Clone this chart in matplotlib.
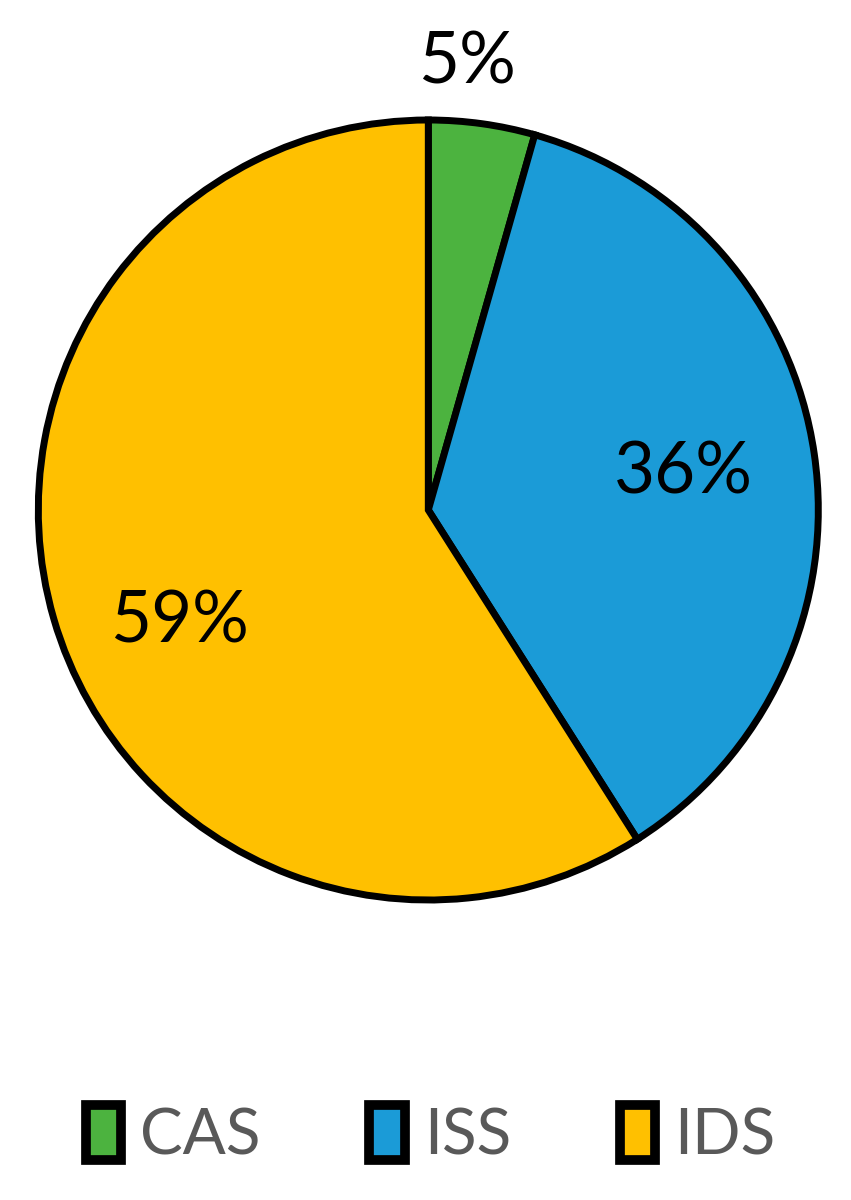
import numpy as np
import matplotlib.pyplot as plt
from matplotlib.patches import Patch

labels = ['CAS', 'ISS', 'IDS']
values = [4.4, 36.6, 59.0]
pct_labels = ['5%', '36%', '59%']
colors = ['#4cb33f', '#1b9bd7', '#ffc000']

plt.rcParams['font.family'] = ['Lato', 'DejaVu Sans']

fig = plt.figure(figsize=(8.51, 12), dpi=100)
ax = fig.add_axes([0.045, 0.25, 0.9166, 0.65])

wedges, _ = ax.pie(values, colors=colors, startangle=90, counterclock=False,
                   wedgeprops=dict(edgecolor='black', linewidth=5))
ax.set_xlim(-1, 1)
ax.set_ylim(-1, 1)
ax.set_aspect('equal')

# label placement: distance from centre and small angle tweak per slice
dists = [1.15, 0.66, 0.70]
tweaks = [3, 0, 8]
for w, txt, d, t in zip(wedges, pct_labels, dists, tweaks):
    ang = np.deg2rad((w.theta1 + w.theta2) / 2 + t)
    ax.text(d * np.cos(ang), d * np.sin(ang), txt, ha='center', va='center',
            fontsize=51, color='black')

handles = [Patch(facecolor=c, edgecolor='black', linewidth=7) for c in colors]
leg = fig.legend(handles, labels, loc='center', bbox_to_anchor=(0.506, 0.054),
                 ncol=3, frameon=False, fontsize=46, handlelength=0.55,
                 handleheight=0.95, handletextpad=0.3, columnspacing=1.7)
for t in leg.get_texts():
    t.set_color('#595959')

fig.savefig('out.png', dpi=100)
